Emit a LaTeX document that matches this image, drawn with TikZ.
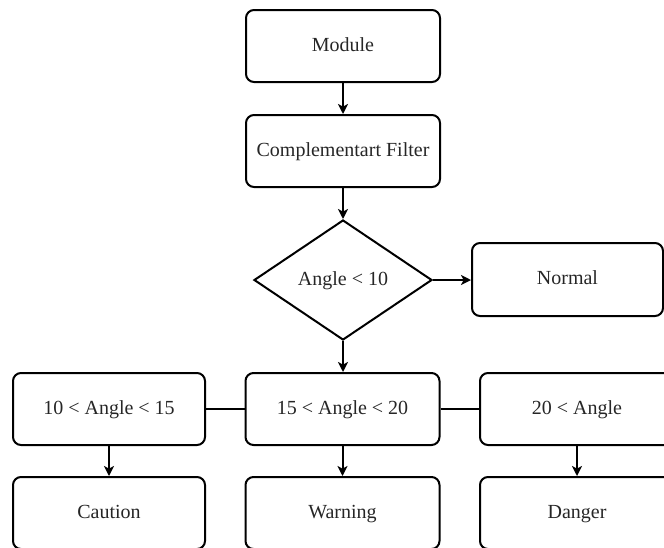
\documentclass[tikz,border=0pt]{standalone}
\usepackage{fontspec}
\setmainfont{Liberation Serif}
\usetikzlibrary{shapes.geometric,arrows.meta}
\begin{document}
\begin{tikzpicture}[x=0.75pt,y=-0.75pt,
  lbl/.style={font=\fontsize{15}{18}\selectfont,text=black!85,text height=0.82em,text depth=0pt},
  box/.style={lbl,draw=black,line width=1.5pt,rounded corners=6pt,minimum width=145.5pt,minimum height=54pt,inner sep=0pt},
  decision/.style={lbl,draw=black,line width=1.5pt,shape=diamond,minimum width=133.5pt,minimum height=90pt,inner sep=0pt},
  arr/.style={line width=1.5pt,-{Stealth[length=7.5pt,width=7.5pt,inset=2pt]}},
  lnk/.style={line width=1.5pt}]
\useasboundingbox (0,0) rectangle (664,547);
\node[box] (module) at (343,46) {Module};
\node[box] (filter) at (343,151) {Complementart Filter};
\node[decision] (angle) at (343,280) {Angle < 10};
\node[box,minimum width=143.25pt,minimum height=54.75pt] (normal) at (567.5,279.5) {Normal};
\node[box,minimum width=144pt] (r1) at (109,409) {10 < Angle < 15};
\node[box] (r2) at (342.5,409) {15 < Angle < 20};
\node[box] (r3) at (577,409) {20 < Angle};
\node[box,minimum width=144pt] (caution) at (109,513) {Caution};
\node[box] (warning) at (342.5,513) {Warning};
\node[box] (danger) at (577,513) {Danger};
\draw[arr] (module) -- (filter);
\draw[arr] (filter) -- (angle);
\draw[arr] (angle) -- (normal.west |- angle);
\draw[arr] (angle.south) -- (angle.south |- r2.north);
\draw[lnk] (r1) -- (r2);
\draw[lnk] (r2) -- (r3);
\draw[arr] (r1) -- (caution);
\draw[arr] (r2) -- (warning);
\draw[arr] (r3) -- (danger);
\end{tikzpicture}
\end{document}
